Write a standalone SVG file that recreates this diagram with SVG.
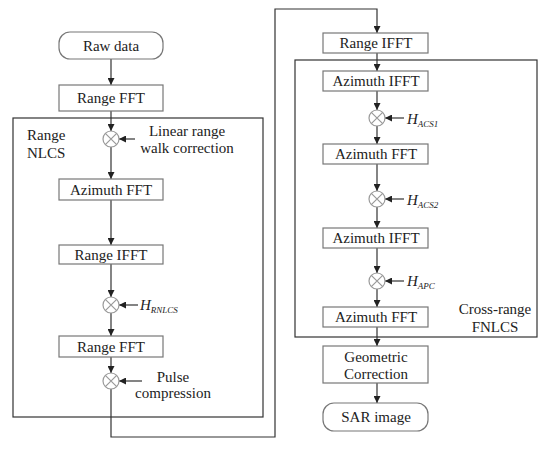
<svg xmlns="http://www.w3.org/2000/svg" width="550" height="450" viewBox="0 0 550 450" font-family="Liberation Serif, Times New Roman, Tinos, DejaVu Serif, serif">
<style>
text{font-size:15px;fill:#222}
.c{text-anchor:middle}
.box{fill:#fff;stroke:#777;stroke-width:1.2}
.frame{fill:none;stroke:#333;stroke-width:1.2}
.mul{fill:#fff;stroke:#999;stroke-width:1.2}
.ln{fill:none;stroke:#333;stroke-width:1.2}
.h{font-style:italic}
.sub{font-style:italic;font-size:9px}
</style>
<defs>
<marker id="ah" viewBox="0 0 10 10" refX="10" refY="5" markerWidth="7" markerHeight="7" markerUnits="userSpaceOnUse" orient="auto">
<path d="M0,0 L10,5 L0,10 z" fill="#222"/>
</marker>
</defs>
<g id="frames">
<rect class="frame" x="13" y="118" width="250" height="299"/>
<rect class="frame" x="295" y="60" width="242" height="277"/>
<text x="27" y="140">Range</text>
<text x="27" y="158">NLCS</text>
<text class="c" x="495" y="314">Cross-range</text>
<text class="c" x="495" y="332">FNLCS</text>
</g>
<g id="connectors">
<line class="ln" x1="111" y1="59" x2="111" y2="85" marker-end="url(#ah)"/>
<line class="ln" x1="111" y1="111" x2="111" y2="131" marker-end="url(#ah)"/>
<line class="ln" x1="111" y1="147" x2="111" y2="179" marker-end="url(#ah)"/>
<line class="ln" x1="111" y1="200" x2="111" y2="245" marker-end="url(#ah)"/>
<line class="ln" x1="111" y1="264" x2="111" y2="297" marker-end="url(#ah)"/>
<line class="ln" x1="111" y1="313" x2="111" y2="336" marker-end="url(#ah)"/>
<line class="ln" x1="111" y1="357" x2="111" y2="373" marker-end="url(#ah)"/>
<polyline class="ln" points="111,389 111,437 275,437 275,9 377,9 377,33" marker-end="url(#ah)"/>
<line class="ln" x1="377" y1="53" x2="377" y2="71" marker-end="url(#ah)"/>
<line class="ln" x1="377" y1="91" x2="377" y2="110" marker-end="url(#ah)"/>
<line class="ln" x1="377" y1="126" x2="377" y2="144" marker-end="url(#ah)"/>
<line class="ln" x1="377" y1="164" x2="377" y2="191" marker-end="url(#ah)"/>
<line class="ln" x1="377" y1="207" x2="377" y2="228" marker-end="url(#ah)"/>
<line class="ln" x1="377" y1="248" x2="377" y2="273" marker-end="url(#ah)"/>
<line class="ln" x1="377" y1="289" x2="377" y2="307" marker-end="url(#ah)"/>
<line class="ln" x1="377" y1="327" x2="377" y2="346" marker-end="url(#ah)"/>
<line class="ln" x1="377" y1="383" x2="377" y2="403" marker-end="url(#ah)"/>
<line class="ln" x1="135" y1="139" x2="119" y2="139" marker-end="url(#ah)"/>
<line class="ln" x1="138" y1="305" x2="119" y2="305" marker-end="url(#ah)"/>
<line class="ln" x1="142" y1="381" x2="119" y2="381" marker-end="url(#ah)"/>
<line class="ln" x1="404" y1="118" x2="385" y2="118" marker-end="url(#ah)"/>
<line class="ln" x1="404" y1="199" x2="385" y2="199" marker-end="url(#ah)"/>
<line class="ln" x1="404" y1="281" x2="385" y2="281" marker-end="url(#ah)"/>
</g>
<g id="raw-data"><rect class="box" x="59" y="32" width="104" height="27" rx="11"/><text class="c" x="111" y="51">Raw data</text></g>
<g id="range-fft-1"><rect class="box" x="59" y="85" width="104" height="26"/><text class="c" x="111" y="103">Range FFT</text></g>
<g id="mul-lrwc"><circle class="mul" cx="111" cy="139" r="8"/><path class="mul" d="M105.3,133.3 L116.7,144.7 M116.7,133.3 L105.3,144.7"/></g>
<g id="lrwc-label"><text class="c" x="187" y="136">Linear range</text><text class="c" x="187" y="153">walk correction</text></g>
<g id="azimuth-fft-1"><rect class="box" x="59" y="179" width="104" height="21"/><text class="c" x="111" y="195">Azimuth FFT</text></g>
<g id="range-ifft-1"><rect class="box" x="59" y="245" width="104" height="19"/><text class="c" x="111" y="260">Range IFFT</text></g>
<g id="mul-rnlcs"><circle class="mul" cx="111" cy="305" r="8"/><path class="mul" d="M105.3,299.3 L116.7,310.7 M116.7,299.3 L105.3,310.7"/></g>
<g id="h-rnlcs"><text x="140" y="310"><tspan class="h">H</tspan><tspan class="sub" dy="3">RNLCS</tspan></text></g>
<g id="range-fft-2"><rect class="box" x="59" y="336" width="104" height="21"/><text class="c" x="111" y="352">Range FFT</text></g>
<g id="mul-pc"><circle class="mul" cx="111" cy="381" r="8"/><path class="mul" d="M105.3,375.3 L116.7,386.7 M116.7,375.3 L105.3,386.7"/></g>
<g id="pc-label"><text class="c" x="173" y="382">Pulse</text><text class="c" x="173" y="398">compression</text></g>
<g id="range-ifft-2"><rect class="box" x="323" y="33" width="105" height="20"/><text class="c" x="376" y="48">Range IFFT</text></g>
<g id="azimuth-ifft-1"><rect class="box" x="323" y="71" width="105" height="20"/><text class="c" x="376" y="86">Azimuth IFFT</text></g>
<g id="mul-acs1"><circle class="mul" cx="377" cy="118" r="8"/><path class="mul" d="M371.3,112.3 L382.7,123.7 M382.7,112.3 L371.3,123.7"/></g>
<g id="h-acs1"><text x="407" y="124"><tspan class="h">H</tspan><tspan class="sub" dy="3">ACS1</tspan></text></g>
<g id="azimuth-fft-2"><rect class="box" x="323" y="144" width="105" height="20"/><text class="c" x="376" y="159">Azimuth FFT</text></g>
<g id="mul-acs2"><circle class="mul" cx="377" cy="199" r="8"/><path class="mul" d="M371.3,193.3 L382.7,204.7 M382.7,193.3 L371.3,204.7"/></g>
<g id="h-acs2"><text x="407" y="205"><tspan class="h">H</tspan><tspan class="sub" dy="3">ACS2</tspan></text></g>
<g id="azimuth-ifft-2"><rect class="box" x="323" y="228" width="105" height="20"/><text class="c" x="376" y="243">Azimuth IFFT</text></g>
<g id="mul-apc"><circle class="mul" cx="377" cy="281" r="8"/><path class="mul" d="M371.3,275.3 L382.7,286.7 M382.7,275.3 L371.3,286.7"/></g>
<g id="h-apc"><text x="407" y="286"><tspan class="h">H</tspan><tspan class="sub" dy="3">APC</tspan></text></g>
<g id="azimuth-fft-3"><rect class="box" x="323" y="307" width="105" height="20"/><text class="c" x="376" y="322">Azimuth FFT</text></g>
<g id="geometric"><rect class="box" x="323" y="346" width="105" height="37"/><text class="c" x="376" y="362">Geometric</text><text class="c" x="376" y="379">Correction</text></g>
<g id="sar-image"><rect class="box" x="323" y="403" width="105" height="28" rx="11"/><text class="c" x="376" y="422">SAR image</text></g>
</svg>
